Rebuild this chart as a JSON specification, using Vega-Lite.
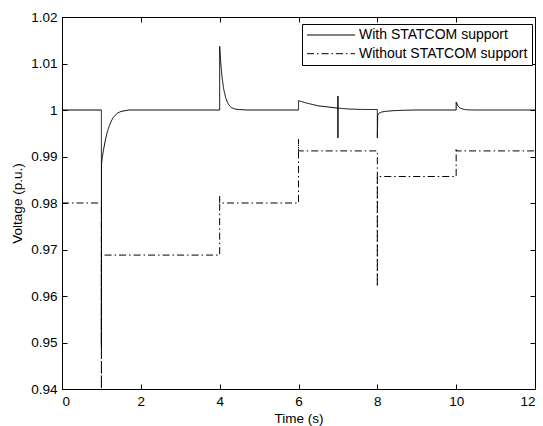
{
  "$schema": "https://vega.github.io/schema/vega-lite/v6.json",
  "width": 473,
  "height": 372,
  "autosize": {"type": "none"},
  "padding": {"left": 62, "top": 17, "right": 8, "bottom": 37},
  "background": "white",
  "config": {
    "view": {"stroke": "black", "strokeWidth": 1},
    "font": "Liberation Sans",
    "axis": {
      "grid": false,
      "domainColor": "black",
      "domainWidth": 1,
      "tickColor": "black",
      "tickWidth": 1,
      "tickSize": -5,
      "labelColor": "black",
      "titleColor": "black",
      "labelFont": "Liberation Sans",
      "titleFont": "Liberation Sans",
      "labelFontSize": 13.5,
      "titleFontSize": 13.5,
      "titleFontWeight": "normal"
    }
  },
  "datasets": {
    "with": [
      {"t": 0, "v": 1.0, "series": "With STATCOM support"},
      {"t": 1.0, "v": 1.0, "series": "With STATCOM support"},
      {"t": 1.0, "v": 0.949, "series": "With STATCOM support"},
      {"t": 1.003, "v": 0.9885, "series": "With STATCOM support"},
      {"t": 1.02, "v": 0.9897, "series": "With STATCOM support"},
      {"t": 1.05, "v": 0.9913, "series": "With STATCOM support"},
      {"t": 1.1, "v": 0.9935, "series": "With STATCOM support"},
      {"t": 1.15, "v": 0.9953, "series": "With STATCOM support"},
      {"t": 1.2, "v": 0.9966, "series": "With STATCOM support"},
      {"t": 1.25, "v": 0.9976, "series": "With STATCOM support"},
      {"t": 1.3, "v": 0.9984, "series": "With STATCOM support"},
      {"t": 1.4, "v": 0.9993, "series": "With STATCOM support"},
      {"t": 1.5, "v": 0.9997, "series": "With STATCOM support"},
      {"t": 1.7, "v": 1.0, "series": "With STATCOM support"},
      {"t": 4.0, "v": 1.0, "series": "With STATCOM support"},
      {"t": 4.0, "v": 1.0137, "series": "With STATCOM support"},
      {"t": 4.03, "v": 1.0099, "series": "With STATCOM support"},
      {"t": 4.06, "v": 1.0071, "series": "With STATCOM support"},
      {"t": 4.1, "v": 1.0046, "series": "With STATCOM support"},
      {"t": 4.15, "v": 1.0027, "series": "With STATCOM support"},
      {"t": 4.2, "v": 1.0016, "series": "With STATCOM support"},
      {"t": 4.25, "v": 1.0009, "series": "With STATCOM support"},
      {"t": 4.3, "v": 1.0005, "series": "With STATCOM support"},
      {"t": 4.4, "v": 1.00018, "series": "With STATCOM support"},
      {"t": 4.5, "v": 1.0001, "series": "With STATCOM support"},
      {"t": 4.7, "v": 1.0, "series": "With STATCOM support"},
      {"t": 6.0, "v": 1.0, "series": "With STATCOM support"},
      {"t": 6.0, "v": 1.002, "series": "With STATCOM support"},
      {"t": 6.2, "v": 1.0015, "series": "With STATCOM support"},
      {"t": 6.5, "v": 1.0009, "series": "With STATCOM support"},
      {"t": 6.8, "v": 1.0006, "series": "With STATCOM support"},
      {"t": 7.0, "v": 1.0004, "series": "With STATCOM support"},
      {"t": 7.0, "v": 1.003, "series": "With STATCOM support"},
      {"t": 7.0, "v": 0.994, "series": "With STATCOM support"},
      {"t": 7.0, "v": 1.0004, "series": "With STATCOM support"},
      {"t": 7.3, "v": 1.0002, "series": "With STATCOM support"},
      {"t": 7.6, "v": 1.00012, "series": "With STATCOM support"},
      {"t": 8.0, "v": 1.0001, "series": "With STATCOM support"},
      {"t": 8.0, "v": 0.994, "series": "With STATCOM support"},
      {"t": 8.01, "v": 0.9988, "series": "With STATCOM support"},
      {"t": 8.04, "v": 0.9993, "series": "With STATCOM support"},
      {"t": 8.1, "v": 0.99955, "series": "With STATCOM support"},
      {"t": 8.2, "v": 0.9997, "series": "With STATCOM support"},
      {"t": 8.4, "v": 0.99985, "series": "With STATCOM support"},
      {"t": 8.7, "v": 0.99995, "series": "With STATCOM support"},
      {"t": 9.0, "v": 1.0, "series": "With STATCOM support"},
      {"t": 10.0, "v": 1.0, "series": "With STATCOM support"},
      {"t": 10.0, "v": 1.0017, "series": "With STATCOM support"},
      {"t": 10.05, "v": 1.0008, "series": "With STATCOM support"},
      {"t": 10.1, "v": 1.0004, "series": "With STATCOM support"},
      {"t": 10.2, "v": 1.00012, "series": "With STATCOM support"},
      {"t": 10.3, "v": 1.00003, "series": "With STATCOM support"},
      {"t": 10.5, "v": 1.0, "series": "With STATCOM support"},
      {"t": 12.0, "v": 1.0, "series": "With STATCOM support"}
    ],
    "without": [
      {"t": 0, "v": 0.98, "series": "Without STATCOM support"},
      {"t": 1.0, "v": 0.98, "series": "Without STATCOM support"},
      {"t": 1.0, "v": 0.94, "series": "Without STATCOM support"},
      {"t": 1.0, "v": 0.9688, "series": "Without STATCOM support"},
      {"t": 4.0, "v": 0.9688, "series": "Without STATCOM support"},
      {"t": 4.0, "v": 0.9815, "series": "Without STATCOM support"},
      {"t": 4.0, "v": 0.98, "series": "Without STATCOM support"},
      {"t": 6.0, "v": 0.98, "series": "Without STATCOM support"},
      {"t": 6.0, "v": 0.9937, "series": "Without STATCOM support"},
      {"t": 6.0, "v": 0.9912, "series": "Without STATCOM support"},
      {"t": 8.0, "v": 0.9912, "series": "Without STATCOM support"},
      {"t": 8.0, "v": 0.962, "series": "Without STATCOM support"},
      {"t": 8.0, "v": 0.9857, "series": "Without STATCOM support"},
      {"t": 10.0, "v": 0.9857, "series": "Without STATCOM support"},
      {"t": 10.0, "v": 0.9918, "series": "Without STATCOM support"},
      {"t": 10.0, "v": 0.9912, "series": "Without STATCOM support"},
      {"t": 12.0, "v": 0.9912, "series": "Without STATCOM support"}
    ]
  },
  "layer": [
    {
      "data": {"name": "with"},
      "mark": {"type": "line", "color": "black", "strokeWidth": 1, "clip": true},
      "encoding": {
        "x": {
          "field": "t", "type": "quantitative",
          "scale": {"domain": [0, 12], "nice": false, "zero": false},
          "axis": {"orient": "bottom", "values": [0, 2, 4, 6, 8, 10, 12], "title": "Time (s)", "labelPadding": 10, "titlePadding": 4}
        },
        "y": {
          "field": "v", "type": "quantitative",
          "scale": {"domain": [0.94, 1.02], "nice": false, "zero": false},
          "axis": {"orient": "left", "values": [0.94, 0.95, 0.96, 0.97, 0.98, 0.99, 1.0, 1.01, 1.02], "format": "~g", "title": "Voltage (p.u.)", "labelPadding": 10, "titlePadding": 6}
        },
        "strokeDash": {
          "field": "series", "type": "nominal",
          "scale": {"domain": ["With STATCOM support", "Without STATCOM support"], "range": [[1, 0], [7, 3, 1.5, 3]]},
          "legend": {
            "orient": "none", "legendX": 240, "legendY": 7, "title": null,
            "symbolType": "M-4,0H4", "symbolSize": 144, "symbolOffset": 18, "labelOffset": 21,
            "symbolStrokeColor": "black", "symbolStrokeWidth": 1,
            "labelFont": "Liberation Sans", "labelFontSize": 14, "labelColor": "black", "labelLimit": 400,
            "strokeColor": "black", "fillColor": "white", "padding": 4, "rowPadding": 4.7
          }
        },
        "order": {"value": null}
      }
    },
    {
      "data": {"name": "without"},
      "mark": {"type": "line", "color": "black", "strokeWidth": 1, "clip": true},
      "encoding": {
        "x": {
          "field": "t", "type": "quantitative",
          "scale": {"domain": [0, 12], "nice": false, "zero": false},
          "axis": {"orient": "top", "values": [0, 2, 4, 6, 8, 10, 12], "labels": false, "title": null}
        },
        "y": {
          "field": "v", "type": "quantitative",
          "scale": {"domain": [0.94, 1.02], "nice": false, "zero": false},
          "axis": {"orient": "right", "values": [0.94, 0.95, 0.96, 0.97, 0.98, 0.99, 1.0, 1.01, 1.02], "labels": false, "title": null}
        },
        "strokeDash": {
          "field": "series", "type": "nominal",
          "scale": {"domain": ["With STATCOM support", "Without STATCOM support"], "range": [[1, 0], [7, 3, 1.5, 3]]},
          "legend": {
            "orient": "none", "legendX": 240, "legendY": 7, "title": null,
            "symbolType": "M-4,0H4", "symbolSize": 144, "symbolOffset": 18, "labelOffset": 21,
            "symbolStrokeColor": "black", "symbolStrokeWidth": 1,
            "labelFont": "Liberation Sans", "labelFontSize": 14, "labelColor": "black", "labelLimit": 400,
            "strokeColor": "black", "fillColor": "white", "padding": 4, "rowPadding": 4.7
          }
        },
        "order": {"value": null}
      }
    }
  ],
  "resolve": {"axis": {"x": "independent", "y": "independent"}}
}
